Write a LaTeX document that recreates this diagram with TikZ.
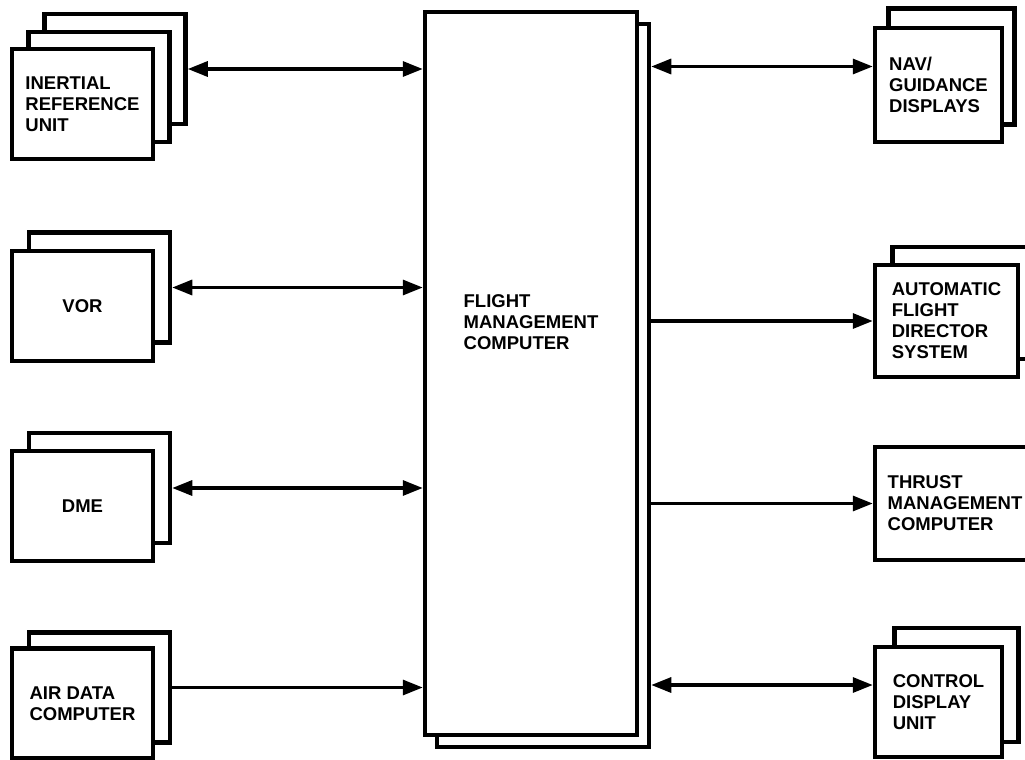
\documentclass[tikz,border=0pt]{standalone}
\usepackage{fontspec}
\newfontfamily\blockfont{Liberation Sans}
\usetikzlibrary{arrows.meta,positioning}

\begin{document}
\begin{tikzpicture}[
  x=1pt, y=-1pt,
  unit/.style={draw, line width=4.5pt, fill=white, align=left, inner sep=0pt,
    font=\blockfont\bfseries\fontsize{18.5}{21}\selectfont},
  lsize/.style={minimum width=141pt, minimum height=110pt},
  label/.style={align=left, inner sep=0pt, font=\blockfont\bfseries\fontsize{18.5}{21}\selectfont},
  link/.style={line width=3.2pt, -{Triangle[length=20pt, width=15pt]}},
  dbl/.style={line width=3.2pt, {Triangle[length=20pt, width=15pt]}-{Triangle[length=20pt, width=15pt]}}
]
\useasboundingbox (0,0) rectangle (1025,760);
\clip (0,0) rectangle (1025,760);

% left side units, back sheets first
\node[unit, lsize] (iru3) at (115,69) {};
\node[unit, lsize] (iru2) at (99,87) {};
\node[unit, lsize] (iru) at (82.5,104) {INERTIAL\\REFERENCE\\UNIT};
\node[unit, lsize] (vor2) at (99.5,287.5) {};
\node[unit, lsize] (vor) at (82.5,306) {VOR};
\node[unit, lsize] (dme2) at (99.5,488) {};
\node[unit, lsize] (dme) at (82.5,506) {DME};
\node[unit, lsize] (adc2) at (99.5,687.5) {};
\node[unit, lsize] (adc) at (82.5,703.5) {AIR DATA\\COMPUTER};

% flight management computer
\node[unit, minimum width=212pt, minimum height=723pt] (fmc2) at (543,385.5) {};
\node[unit, minimum width=212pt, minimum height=723pt] (fmc) at (531,373.5) {};
\node[label] (fmctext) at (531,322) {FLIGHT\\MANAGEMENT\\COMPUTER};

% right side units
\node[unit, minimum width=126pt, minimum height=116pt] (nav2) at (951.5,66.5) {};
\node[unit, minimum width=127pt, minimum height=114pt] (nav) at (938.5,85) {NAV/\\GUIDANCE\\DISPLAYS};
\node[unit, minimum width=143pt, minimum height=112pt] (afds2) at (964,303) {};
\node[unit, minimum width=143pt, minimum height=112pt] (afds) at (946.5,321) {AUTOMATIC\\FLIGHT\\DIRECTOR\\SYSTEM};
\node[unit, minimum width=160pt, minimum height=113pt] (tmc) at (955,503.5) {THRUST\\MANAGEMENT\\COMPUTER};
\node[unit, minimum width=124pt, minimum height=114pt] (cdu2) at (956.5,685) {};
\node[unit, minimum width=127pt, minimum height=110pt] (cdu) at (938.5,702) {CONTROL\\DISPLAY\\UNIT};

% data links
\draw[dbl] (iru3.east) -- (iru3.east -| fmc.west);
\draw[dbl] (vor2.east) -- (vor2.east -| fmc.west);
\draw[dbl] (dme2.east) -- (dme2.east -| fmc.west);
\draw[link] (adc2.east) -- (adc2.east -| fmc.west);
\draw[dbl] (nav2.center -| fmc2.east) -- (nav2.center -| nav.west);
\draw[link] (afds.center -| fmc2.east) -- (afds.west);
\draw[link] (tmc.center -| fmc2.east) -- (tmc.west);
\draw[dbl] (cdu2.center -| fmc2.east) -- (cdu2.center -| cdu.west);
\end{tikzpicture}
\end{document}
